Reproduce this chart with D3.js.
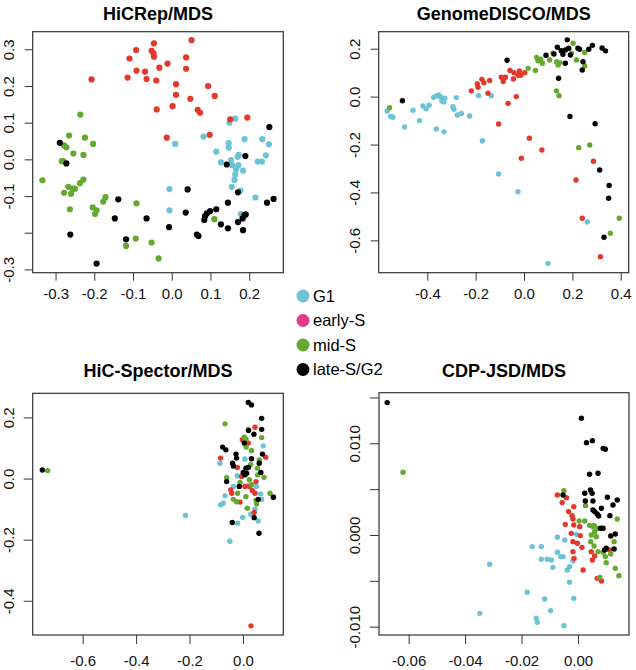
<!DOCTYPE html>
<html>
<head>
<meta charset="utf-8">
<script src="https://cdn.jsdelivr.net/npm/d3@7"></script>
<style>
  body { margin: 0; background: #fff; }
  svg { font-family: "Liberation Sans", Arial, sans-serif; }
</style>
</head>
<body>
<svg width="636" height="670"></svg>
<script>
// cell-cycle phases, colours as in the figure
var phases = ["G1", "early-S", "mid-S", "late-S/G2"];
var pointColors = ["#6cc3d7", "#e2392b", "#64a92f", "#000000"];
var legendColors = ["#6cc3d7", "#e3398b", "#64a92f", "#000000"];

// ---- HiCRep/MDS ----
var hicrepG1 = [[0.009,0.042],[0.082,0.062],[0.149,0.100],[0.164,0.111],[0.147,0.044],[0.147,0.032],[0.115,0.021],
  [0.127,-0.008],[0.153,-0.002],[0.156,-0.016],[0.170,0.007],[0.173,0.012],[0.166,-0.027],[0.172,-0.016],[0.164,-0.041],
  [0.162,-0.056],[0.155,-0.075],[0.177,-0.085],[0.184,-0.031],[0.188,0.055],[0.216,-0.104],[0.234,0.055],[0.243,0.011],
  [0.222,-0.006],[0.233,-0.006],[0.251,0.041],[-0.006,-0.081],[-0.006,-0.139],[0.178,-0.149]];
var hicrepEarlyS = [[-0.207,0.218],[-0.109,0.275],[-0.092,0.298],[-0.114,0.223],[-0.091,0.242],[-0.069,0.239],[-0.065,0.219],
  [-0.052,0.296],[-0.046,0.316],[-0.047,0.289],[-0.046,0.280],[-0.032,0.250],[-0.040,0.215],[-0.039,0.136],[-0.011,0.261],
  [0.002,0.145],[0.011,0.205],[0.011,0.176],[-0.013,0.059],[0.037,0.278],[0.037,0.247],[0.051,0.325],[0.048,0.165],
  [0.067,0.135],[0.073,0.127],[0.094,0.200],[0.111,0.173],[0.098,0.067],[0.151,0.109],[0.195,0.114]];
var hicrepMidS = [[-0.334,-0.057],[-0.278,0.038],[-0.272,0.033],[-0.265,0.065],[-0.236,0.122],[-0.224,0.059],[-0.203,0.042],
  [-0.254,0.016],[-0.228,0.012],[-0.284,-0.005],[-0.280,-0.005],[-0.278,-0.091],[-0.267,-0.075],[-0.260,-0.094],[-0.256,-0.080],
  [-0.250,-0.080],[-0.237,-0.065],[-0.228,-0.055],[-0.263,-0.136],[-0.204,-0.131],[-0.198,-0.149],[-0.194,-0.139],
  [-0.177,-0.115],[-0.171,-0.103],[-0.091,-0.120],[-0.093,-0.216],[-0.118,-0.236],[-0.052,-0.227],[-0.034,-0.270],[0.110,-0.163]];
var hicrepLateS = [[-0.289,0.045],[-0.272,-0.011],[-0.262,-0.205],[-0.194,-0.284],[-0.138,-0.109],[-0.147,-0.161],[-0.118,-0.218],
  [-0.065,-0.161],[-0.007,-0.185],[0.041,-0.082],[0.036,-0.145],[0.065,-0.205],[0.069,-0.209],[0.086,-0.155],[0.091,-0.147],
  [0.099,-0.141],[0.115,-0.136],[0.084,-0.165],[0.127,-0.177],[0.145,-0.188],[0.142,-0.014],[0.145,-0.118],[0.171,-0.090],
  [0.171,-0.171],[0.184,-0.193],[0.183,-0.161],[0.188,-0.152],[0.191,-0.150],[0.190,0.009],[0.246,-0.118],[0.263,-0.108],[0.252,0.088]];

// ---- GenomeDISCO/MDS ----
var discoG1 = [[-0.566,-0.060],[-0.552,-0.083],[-0.542,-0.086],[-0.494,-0.127],[-0.459,-0.057],[-0.432,-0.100],[-0.418,-0.039],
  [-0.405,-0.051],[-0.392,-0.036],[-0.374,-0.003],[-0.363,0.003],[-0.353,0.007],[-0.345,-0.001],[-0.340,-0.018],[-0.332,-0.022],
  [-0.328,-0.007],[-0.363,-0.135],[-0.331,-0.147],[-0.294,-0.042],[-0.290,-0.053],[-0.280,-0.004],[-0.276,-0.077],[-0.259,-0.070],
  [-0.225,-0.081],[-0.188,0.004],[-0.172,-0.184],[-0.135,0.004],[-0.105,-0.323],[-0.025,-0.397],[0.099,-0.696],[0.262,-0.523]];
var discoEarlyS = [[-0.218,0.024],[-0.193,0.053],[-0.190,0.039],[-0.174,0.072],[-0.166,0.058],[-0.149,0.014],[-0.142,0.067],
  [-0.105,-0.114],[-0.094,0.081],[-0.086,0.063],[-0.077,0.081],[-0.066,-0.028],[-0.058,0.109],[-0.044,0.074],[-0.041,0.100],
  [-0.032,0.000],[-0.025,0.089],[-0.019,0.107],[-0.014,0.089],[0.003,0.100],[-0.011,-0.257],[0.022,-0.174],[0.074,-0.223],
  [0.215,-0.348],[0.241,-0.508],[0.287,-0.270],[0.316,-0.668]];
var discoMidS = [[-0.556,-0.046],[0.017,0.118],[0.047,0.109],[0.052,0.164],[0.058,0.150],[0.069,0.156],[0.076,0.139],
  [0.106,0.153],[0.120,0.181],[0.135,0.146],[0.141,0.132],[0.148,0.142],[0.134,0.024],[0.145,0.004],[0.196,0.181],
  [0.203,0.223],[0.217,0.153],[0.251,0.184],[0.251,0.128],[0.226,-0.213],[0.272,-0.202],[0.357,-0.570],[0.394,-0.508]];
var discoLateS = [[-0.503,-0.017],[-0.070,0.152],[0.091,0.173],[0.124,0.178],[0.138,0.206],[0.143,0.077],[0.154,0.192],
  [0.161,0.177],[0.171,0.139],[0.179,0.237],[0.171,0.195],[0.185,0.202],[0.192,0.174],[0.223,0.202],[0.230,0.198],
  [0.241,0.111],[0.244,0.146],[0.268,0.198],[0.283,0.214],[0.190,-0.083],[0.294,-0.113],[0.313,-0.306],[0.352,-0.371],
  [0.350,-0.424],[0.331,-0.587],[0.323,0.203],[0.337,0.191]];

// ---- HiC-Spector/MDS ----
var spectorG1 = [[0.076,0.107],[-0.086,0.050],[0.007,0.064],[-0.021,0.009],[-0.084,-0.086],[-0.074,-0.081],[-0.067,-0.056],
  [-0.036,-0.026],[0.051,-0.026],[0.066,-0.050],[0.070,-0.068],[-0.001,-0.127],[-0.020,-0.146],[0.029,-0.117],[0.045,-0.100],
  [0.057,-0.139],[-0.049,-0.205],[-0.215,-0.121],[0.017,-0.023]];
var spectorEarlyS = [[0.045,0.168],[-0.002,0.127],[0.020,0.116],[-0.084,0.067],[0.085,0.070],[-0.021,0.036],[-0.005,0.007],
  [0.007,-0.026],[0.024,-0.026],[-0.046,-0.037],[-0.042,-0.048],[0.035,-0.039],[0.045,-0.048],[0.049,-0.010],[-0.011,-0.077],
  [0.042,-0.111],[0.114,-0.061],[0.030,-0.482]];
var spectorMidS = [[-0.731,0.026],[-0.067,0.179],[0.020,0.161],[0.005,0.135],[0.011,0.129],[0.070,0.134],[0.012,0.103],
  [0.032,0.092],[0.029,0.045],[0.054,0.034],[0.061,0.061],[0.079,0.004],[-0.061,0.003],[-0.011,-0.013],[0.024,-0.004],
  [0.032,-0.020],[-0.020,-0.048],[-0.036,-0.068],[-0.024,-0.076],[0.011,-0.059],[0.016,-0.097],[0.051,-0.083],[0.049,-0.072],
  [0.101,-0.048],[0.055,0.012]];
var spectorLateS = [[-0.751,0.028],[0.020,0.249],[0.032,0.241],[0.070,0.197],[-0.076,0.103],[-0.064,0.094],[0.021,0.157],
  [0.041,0.145],[0.070,0.161],[-0.026,0.080],[-0.024,0.067],[0.005,0.116],[0.073,0.080],[-0.039,0.050],[-0.036,0.041],
  [0.032,0.065],[0.061,0.050],[0.011,0.034],[0.020,0.036],[0.007,0.012],[0.014,0.017],[-0.061,-0.010],[-0.014,-0.026],
  [0.067,0.020],[0.114,-0.061],[0.057,-0.068],[0.042,-0.128],[-0.040,-0.144],[0.060,-0.179],[0.001,0.020]];

// ---- CDP-JSD/MDS ----
var jsdG1 = [[-0.0313,-0.00320],[-0.0348,-0.00855],[-0.0180,-0.00625],[-0.0162,-0.00127],[-0.0130,-0.00127],[-0.0130,-0.00265],
  [-0.0109,-0.00265],[-0.0094,-0.00273],[-0.0089,-0.00353],[-0.0118,-0.00698],[-0.0097,-0.00825],[-0.0148,-0.00909],
  [-0.0144,-0.00953],[-0.0050,-0.00989],[-0.0073,-0.00025],[-0.0073,-0.00189],[-0.0061,-0.00236],[-0.0053,-0.00236],
  [-0.0047,-0.00055],[-0.0038,-0.00382],[-0.0030,-0.00345],[-0.0018,-0.00284],[-0.0030,-0.00516],[-0.0015,-0.00691],[-0.0006,0.00007]];
var jsdEarlyS = [[-0.0073,0.00436],[-0.0041,0.00407],[-0.0056,0.00353],[-0.0015,0.00309],[-0.0033,0.00255],[-0.0021,0.00211],
  [-0.0018,0.00175],[-0.0045,0.00116],[-0.0015,0.00109],[0.0006,0.00091],[-0.0024,0.00018],[0.0008,-0.00007],[-0.0018,-0.00073],
  [-0.0002,-0.00091],[0.0014,-0.00135],[-0.0018,-0.00182],[-0.0014,-0.00255],[0.0018,-0.00382],[0.0047,-0.00182],
  [0.0051,-0.00273],[0.0059,-0.00229],[0.0068,-0.00473],[0.0083,-0.00502],[0.0112,-0.00164]];
var jsdMidS = [[-0.0620,0.00684],[-0.0050,0.00484],[0.0027,0.00320],[0.0004,0.00153],[0.0024,0.00153],[0.0041,0.00105],
  [0.0057,0.00105],[0.0071,0.00073],[0.0139,0.00175],[0.0047,0.00000],[0.0059,0.00036],[0.0065,-0.00018],[0.0045,-0.00073],
  [0.0057,-0.00120],[0.0071,-0.00182],[0.0089,-0.00189],[0.0097,-0.00236],[0.0100,-0.00302],[0.0116,-0.00207],[0.0128,-0.00073],
  [0.0132,-0.00364],[0.0145,-0.00444],[0.0077,-0.00462],[0.0053,0.00091]];
var jsdLateS = [[-0.0676,0.01444],[0.0012,0.01273],[0.0030,0.01007],[0.0051,0.01029],[0.0089,0.00945],[0.0097,0.00935],
  [0.0041,0.00662],[0.0071,0.00673],[-0.0053,0.00436],[0.0024,0.00455],[0.0044,0.00491],[0.0050,0.00455],[0.0026,0.00371],
  [0.0053,0.00371],[0.0104,0.00411],[0.0139,0.00382],[0.0124,0.00327],[0.0053,0.00273],[0.0059,0.00255],[0.0083,0.00291],
  [0.0068,0.00229],[0.0073,0.00207],[0.0113,0.00211],[0.0080,0.00073],[0.0089,0.00073],[0.0116,-0.00011],[0.0132,0.00011],
  [0.0094,-0.00164],[0.0100,-0.00145],[0.0128,-0.00153]];

// tick values and labels (R drops some labels)
var hicrepXTicks = [-0.3, -0.2, -0.1, 0.0, 0.1, 0.2];
var hicrepXLabels = ["-0.3", "-0.2", "-0.1", "0.0", "0.1", "0.2"];
var hicrepYTicks = [-0.3, -0.2, -0.1, 0.0, 0.1, 0.2, 0.3];
var hicrepYLabels = ["-0.3", "", "-0.1", "0.0", "0.1", "0.2", "0.3"];
var discoXTicks = [-0.4, -0.2, 0.0, 0.2, 0.4];
var discoXLabels = ["-0.4", "-0.2", "0.0", "0.2", "0.4"];
var discoYTicks = [-0.6, -0.4, -0.2, 0.0, 0.2];
var discoYLabels = ["-0.6", "-0.4", "-0.2", "0.0", "0.2"];
var spectorXTicks = [-0.6, -0.4, -0.2, 0.0];
var spectorXLabels = ["-0.6", "-0.4", "-0.2", "0.0"];
var spectorYTicks = [-0.4, -0.2, 0.0, 0.2];
var spectorYLabels = ["-0.4", "-0.2", "0.0", "0.2"];
var jsdXTicks = [-0.06, -0.04, -0.02, 0.00];
var jsdXLabels = ["-0.06", "-0.04", "-0.02", "0.00"];
var jsdYTicks = [-0.010, -0.005, 0.000, 0.005, 0.010, 0.015];
var jsdYLabels = ["-0.010", "", "0.000", "", "0.010", ""];

// panel layout: box in pixels, data limits at the box edges
var panels = [
  {title: "HiCRep/MDS", series: [hicrepG1, hicrepEarlyS, hicrepMidS, hicrepLateS], r: 3.1,
   box: {x0: 32.7, x1: 283.3, y0: 31.7, y1: 272.7}, xlim: [-0.359, 0.288], ylim: [-0.309, 0.348],
   xt: hicrepXTicks, xl: hicrepXLabels, yt: hicrepYTicks, yl: hicrepYLabels, titleY: 19.5, xlabOff: 21, tick: 8},
  {title: "GenomeDISCO/MDS", series: [discoG1, discoEarlyS, discoMidS, discoLateS], r: 2.7,
   box: {x0: 378.7, x1: 628.7, y0: 31.7, y1: 272.7}, xlim: [-0.601, 0.433], ylim: [-0.735, 0.271],
   xt: discoXTicks, xl: discoXLabels, yt: discoYTicks, yl: discoYLabels, titleY: 19.5, xlabOff: 21, tick: 8},
  {title: "HiC-Spector/MDS", series: [spectorG1, spectorEarlyS, spectorMidS, spectorLateS], r: 2.7,
   box: {x0: 32.7, x1: 283.3, y0: 393.3, y1: 635}, xlim: [-0.787, 0.151], ylim: [-0.512, 0.279],
   xt: spectorXTicks, xl: spectorXLabels, yt: spectorYTicks, yl: spectorYLabels, titleY: 376.5, xlabOff: 25.5, tick: 9},
  {title: "CDP-JSD/MDS", series: [jsdG1, jsdEarlyS, jsdMidS, jsdLateS], r: 2.7,
   box: {x0: 379, x1: 629, y0: 392.7, y1: 635}, xlim: [-0.0705, 0.01807], ylim: [-0.01091, 0.01552],
   xt: jsdXTicks, xl: jsdXLabels, yt: jsdYTicks, yl: jsdYLabels, titleY: 376.5, xlabOff: 25.5, tick: 9}
];

var svg = d3.select("svg");

panels.forEach(function(p) {
  var b = p.box;
  var x = d3.scaleLinear().domain(p.xlim).range([b.x0, b.x1]);
  var y = d3.scaleLinear().domain(p.ylim).range([b.y1, b.y0]);
  var g = svg.append("g");

  // title
  g.append("text")
    .attr("x", (b.x0 + b.x1) / 2)
    .attr("y", p.titleY)
    .attr("text-anchor", "middle")
    .style("font-size", "18px")
    .style("font-weight", "bold")
    .text(p.title);

  // points, drawn group by group
  p.series.forEach(function(pts, i) {
    g.append("g").selectAll("circle")
      .data(pts)
      .enter()
      .append("circle")
      .attr("cx", function(d) { return x(d[0]); })
      .attr("cy", function(d) { return y(d[1]); })
      .attr("r", p.r)
      .attr("fill", pointColors[i]);
  });

  // x axis
  var xa = g.append("g")
    .attr("transform", "translate(0," + b.y1 + ")")
    .call(d3.axisBottom(x).tickValues(p.xt).tickSize(p.tick).tickSizeOuter(0)
      .tickFormat(function(d, i) { return p.xl[i]; }));
  xa.select(".domain").remove();
  xa.selectAll("line").attr("stroke", "#333");
  xa.selectAll("text")
    .attr("y", p.xlabOff)
    .attr("dy", "0.35em")
    .style("font-size", "15px")
    .style("font-family", "'Liberation Sans', Arial, sans-serif")
    .attr("fill", "#111");

  // y axis, labels turned like R does
  var ya = g.append("g")
    .attr("transform", "translate(" + b.x0 + ",0)")
    .call(d3.axisLeft(y).tickValues(p.yt).tickSize(p.tick).tickSizeOuter(0)
      .tickFormat(function(d, i) { return p.yl[i]; }));
  ya.select(".domain").remove();
  ya.selectAll("line").attr("stroke", "#333");
  ya.selectAll("text")
    .attr("x", null)
    .attr("dy", "0.35em")
    .attr("transform", "translate(-24,0) rotate(-90)")
    .attr("text-anchor", "middle")
    .style("font-size", "15px")
    .style("font-family", "'Liberation Sans', Arial, sans-serif")
    .attr("fill", "#111");

  // frame
  g.append("rect")
    .attr("x", b.x0).attr("y", b.y0)
    .attr("width", b.x1 - b.x0).attr("height", b.y1 - b.y0)
    .attr("fill", "none")
    .attr("stroke", "#333")
    .attr("stroke-width", 1.2);
});

// legend in the middle
var legend = svg.append("g").attr("transform", "translate(303,296)");
var item = legend.selectAll("g")
  .data(phases)
  .enter()
  .append("g")
  .attr("transform", function(d, i) { return "translate(0," + (i * 24.5) + ")"; });
item.append("circle")
  .attr("r", 6.5)
  .attr("fill", function(d, i) { return legendColors[i]; });
item.append("text")
  .attr("x", 10)
  .attr("dy", "0.35em")
  .style("font-size", "16.5px")
  .style("font-weight", "500")
  .text(function(d) { return d; });
</script>
</body>
</html>
